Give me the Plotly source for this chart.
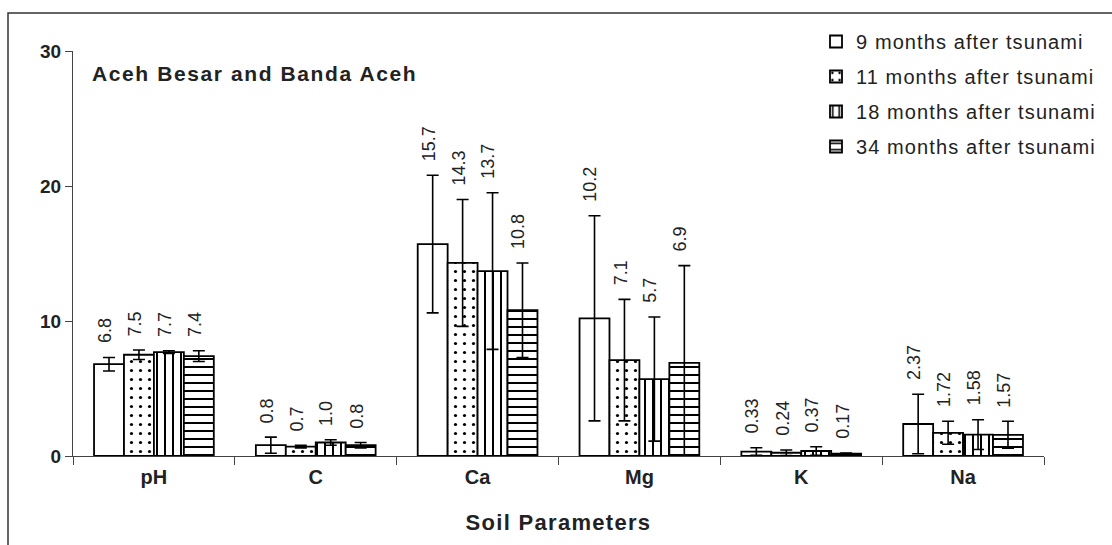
import plotly.graph_objects as go

categories = ["pH", "C", "Ca", "Mg", "K", "Na"]
series_names = ["9 months after tsunami", "11 months after tsunami",
                "18 months after tsunami", "34 months after tsunami"]
values_9m = [6.8, 0.8, 15.7, 10.2, 0.33, 2.37]
values_11m = [7.5, 0.7, 14.3, 7.1, 0.24, 1.72]
values_18m = [7.7, 1.0, 13.7, 5.7, 0.37, 1.58]
values_34m = [7.4, 0.8, 10.8, 6.9, 0.17, 1.57]
err_9m = [0.5, 0.6, 5.1, 7.6, 0.28, 2.2]
err_11m = [0.35, 0.1, 4.7, 4.5, 0.2, 0.85]
err_18m = [0.1, 0.2, 5.8, 4.6, 0.32, 1.1]
err_34m = [0.4, 0.2, 3.5, 7.2, 0.05, 1.0]
label_9m = ["6.8", "0.8", "15.7", "10.2", "0.33", "2.37"]
label_11m = ["7.5", "0.7", "14.3", "7.1", "0.24", "1.72"]
label_18m = ["7.7", "1.0", "13.7", "5.7", "0.37", "1.58"]
label_34m = ["7.4", "0.8", "10.8", "6.9", "0.17", "1.57"]

values = [values_9m, values_11m, values_18m, values_34m]
errors = [err_9m, err_11m, err_18m, err_34m]
labels = [label_9m, label_11m, label_18m, label_34m]
patterns = ["", ".", "|", "-"]

FONT = "Liberation Sans, Arial, sans-serif"
BARGAP = 0.26
TITLE = "Aceh Besar and Banda Aceh"
TITLE_SPACING = 1.6

fig = go.Figure()
for j in range(4):
    pat = dict(shape=patterns[j], fgcolor="black", bgcolor="white",
               size=9 if patterns[j] == "." else 8,
               solidity=0.1 if patterns[j] == "." else 0.25,
               fillmode="replace")
    fig.add_trace(go.Bar(
        x=categories, y=values[j], name=series_names[j],
        legendgroup=str(j),
        marker=dict(color="white", line=dict(color="black", width=1.8),
                    pattern=pat),
        error_y=dict(type="data", array=errors[j], visible=True,
                     color="black", thickness=1.6, width=6),
    ))

annotations = []
bw = (1 - BARGAP) / 4
for j in range(4):
    for i in range(len(categories)):
        xc = i - (1 - BARGAP) / 2 + bw * (j + 0.5)
        annotations.append(dict(
            x=xc, y=values[j][i] + errors[j][i], xref="x", yref="y",
            text=labels[j][i], showarrow=False, textangle=-90,
            xanchor="center", yanchor="bottom", yshift=12, xshift=-4,
            font=dict(family=FONT, size=18, color="#222")))

annotations.append(dict(
    x=(90 - 73) / 971, y=(456 - 73) / 405, xref="paper", yref="paper",
    text="<b>" + TITLE + "</b>",
    showarrow=False, xanchor="left", yanchor="middle",
    xshift=TITLE_SPACING * len(TITLE) / 2,
    font=dict(family=FONT, size=21, color="#222")))

fig.update_layout(
    width=1112, height=545,
    margin=dict(l=73, r=68, t=51, b=89, pad=0),
    paper_bgcolor="white", plot_bgcolor="white",
    barmode="group", bargap=BARGAP, bargroupgap=0,
    font=dict(family=FONT, color="#222"),
    showlegend=True,
    legend=dict(x=(816 - 73) / 971, y=(456 - 22) / 405, xanchor="left", yanchor="top",
                traceorder="grouped", tracegroupgap=6,
                font=dict(family=FONT, size=20, color="#222"),
                bgcolor="rgba(0,0,0,0)"),
    annotations=annotations,
    shapes=[dict(type="rect", xref="paper", yref="paper",
                 x0=(8 - 73) / 971, x1=2, y0=-1, y1=(456 - 13) / 405,
                 line=dict(color="#333", width=1.5), layer="below")],
)
fig.update_xaxes(
    type="category", tickson="boundaries", ticks="outside", ticklen=8,
    tickcolor="#444", showline=True, linecolor="#444", linewidth=1,
    showgrid=False, zeroline=False, ticklabelstandoff=3,
    tickfont=dict(family=FONT, size=20, color="#222"),
    tickprefix="<b>", ticksuffix="</b>",
    title=dict(text="<b>Soil Parameters</b>", standoff=27,
               font=dict(family=FONT, size=22, color="#222")),
)
fig.update_yaxes(
    range=[0, 30], dtick=10, ticks="outside", ticklen=7, tickcolor="#444",
    showline=True, linecolor="#444", linewidth=1, showgrid=False,
    zeroline=False, tickprefix="<b>", ticksuffix="</b>",
    tickfont=dict(family=FONT, size=19, color="#222"),
)

post = """
document.body.style.margin = '0';
var gd = document.getElementById('{plot_id}');
gd.querySelectorAll('.legend [clip-path]').forEach(function(e){ e.removeAttribute('clip-path'); });
gd.querySelectorAll('.legend').forEach(function(e){ e.removeAttribute('clip-path'); });
gd.querySelectorAll('.legendtext').forEach(function(e){ e.style.letterSpacing = '1.1px'; });
gd.querySelectorAll('.xtitle').forEach(function(e){ e.style.letterSpacing = '1.3px'; });
gd.querySelectorAll('.annotation-text').forEach(function(e){
  if (e.textContent.indexOf('Aceh') >= 0) { e.style.letterSpacing = '%spx'; }
});
""" % TITLE_SPACING

fig.write_html("out.html", post_script=post, config={"displayModeBar": False})
